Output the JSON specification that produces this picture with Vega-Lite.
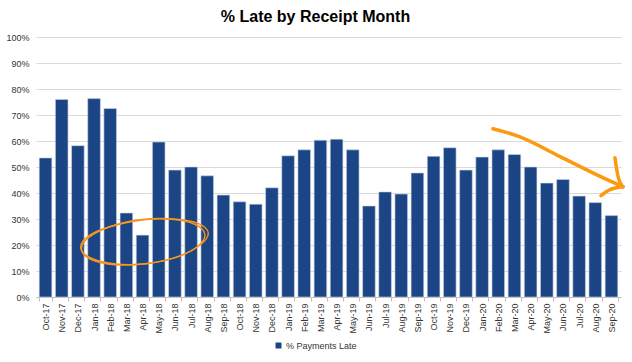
{
  "$schema": "https://vega.github.io/schema/vega-lite/v6.json",
  "autosize": {"type": "none"},
  "width": 585,
  "height": 260,
  "padding": {"left": 36, "top": 37, "right": 11, "bottom": 65},
  "background": "#ffffff",
  "title": {
    "text": "% Late by Receipt Month",
    "font": "Liberation Sans",
    "fontSize": 16,
    "fontWeight": "bold",
    "color": "#000000",
    "anchor": "middle",
    "dx": -13,
    "offset": 8
  },
  "config": {
    "view": {"stroke": null},
    "font": "Liberation Sans"
  },
  "datasets": {
    "months": [
      {"month": "Oct-17", "late": 0.535},
      {"month": "Nov-17", "late": 0.76},
      {"month": "Dec-17", "late": 0.582},
      {"month": "Jan-18", "late": 0.763},
      {"month": "Feb-18", "late": 0.725},
      {"month": "Mar-18", "late": 0.323},
      {"month": "Apr-18", "late": 0.238},
      {"month": "May-18", "late": 0.596},
      {"month": "Jun-18", "late": 0.488},
      {"month": "Jul-18", "late": 0.5},
      {"month": "Aug-18", "late": 0.466},
      {"month": "Sep-18", "late": 0.392},
      {"month": "Oct-18", "late": 0.366},
      {"month": "Nov-18", "late": 0.357},
      {"month": "Dec-18", "late": 0.42},
      {"month": "Jan-19", "late": 0.543},
      {"month": "Feb-19", "late": 0.566},
      {"month": "Mar-19", "late": 0.603},
      {"month": "Apr-19", "late": 0.607},
      {"month": "May-19", "late": 0.566},
      {"month": "Jun-19", "late": 0.35},
      {"month": "Jul-19", "late": 0.404},
      {"month": "Aug-19", "late": 0.396},
      {"month": "Sep-19", "late": 0.477},
      {"month": "Oct-19", "late": 0.541},
      {"month": "Nov-19", "late": 0.574},
      {"month": "Dec-19", "late": 0.488},
      {"month": "Jan-20", "late": 0.538},
      {"month": "Feb-20", "late": 0.566},
      {"month": "Mar-20", "late": 0.548},
      {"month": "Apr-20", "late": 0.5},
      {"month": "May-20", "late": 0.438},
      {"month": "Jun-20", "late": 0.452},
      {"month": "Jul-20", "late": 0.388},
      {"month": "Aug-20", "late": 0.363},
      {"month": "Sep-20", "late": 0.313}
    ],
    "ellipse": [
      {"loop": 1, "i": 0, "x": 10.39, "late": 0.2408},
      {"loop": 1, "i": 1, "x": 9.96, "late": 0.195},
      {"loop": 1, "i": 2, "x": 8.64, "late": 0.1535},
      {"loop": 1, "i": 3, "x": 6.76, "late": 0.1277},
      {"loop": 1, "i": 4, "x": 4.84, "late": 0.1242},
      {"loop": 1, "i": 5, "x": 3.39, "late": 0.1442},
      {"loop": 1, "i": 6, "x": 2.8, "late": 0.1823},
      {"loop": 1, "i": 7, "x": 3.23, "late": 0.2281},
      {"loop": 1, "i": 8, "x": 4.56, "late": 0.2696},
      {"loop": 1, "i": 9, "x": 6.43, "late": 0.2954},
      {"loop": 1, "i": 10, "x": 8.35, "late": 0.2988},
      {"loop": 1, "i": 11, "x": 9.8, "late": 0.2788},
      {"loop": 2, "i": 0, "x": 10.6, "late": 0.246},
      {"loop": 2, "i": 1, "x": 10.1, "late": 0.2},
      {"loop": 2, "i": 2, "x": 8.8, "late": 0.156},
      {"loop": 2, "i": 3, "x": 6.9, "late": 0.129},
      {"loop": 2, "i": 4, "x": 4.9, "late": 0.127},
      {"loop": 2, "i": 5, "x": 3.4, "late": 0.149},
      {"loop": 2, "i": 6, "x": 2.75, "late": 0.188},
      {"loop": 2, "i": 7, "x": 3.2, "late": 0.233},
      {"loop": 2, "i": 8, "x": 4.6, "late": 0.272},
      {"loop": 2, "i": 9, "x": 6.5, "late": 0.298},
      {"loop": 2, "i": 10, "x": 8.5, "late": 0.3},
      {"loop": 2, "i": 11, "x": 10.0, "late": 0.282}
    ],
    "arrow": [
      {"part": "shaft", "i": 0, "x": 28.12, "late": 0.647},
      {"part": "shaft", "i": 1, "x": 29.78, "late": 0.616},
      {"part": "shaft", "i": 2, "x": 32.25, "late": 0.54},
      {"part": "shaft", "i": 3, "x": 34.52, "late": 0.47},
      {"part": "shaft", "i": 4, "x": 36.12, "late": 0.424},
      {"part": "head1", "i": 0, "x": 35.63, "late": 0.536},
      {"part": "head1", "i": 1, "x": 35.82, "late": 0.463},
      {"part": "head1", "i": 2, "x": 36.12, "late": 0.424},
      {"part": "head2", "i": 0, "x": 34.77, "late": 0.39},
      {"part": "head2", "i": 1, "x": 35.32, "late": 0.413},
      {"part": "head2", "i": 2, "x": 36.12, "late": 0.424}
    ]
  },
  "encoding": {
    "y": {
      "field": "late",
      "type": "quantitative",
      "title": null,
      "scale": {"domain": [0, 1], "nice": false},
      "axis": {
        "format": ".0%",
        "values": [0, 0.1, 0.2, 0.3, 0.4, 0.5, 0.6, 0.7, 0.8, 0.9, 1],
        "labelOverlap": false,
        "labelFontSize": 9,
        "labelColor": "#333333",
        "labelPadding": 7,
        "domain": false,
        "ticks": false,
        "grid": true,
        "gridColor": "#d9d9d9",
        "gridWidth": 1
      }
    }
  },
  "layer": [
    {
      "data": {"name": "months"},
      "mark": {"type": "bar", "stroke": "#c9d5e8", "strokeWidth": 0.6},
      "encoding": {
        "x": {
          "field": "month",
          "type": "ordinal",
          "sort": null,
          "title": null,
          "scale": {"paddingInner": 0.22, "paddingOuter": 0.2},
          "axis": {
            "labelAngle": -90,
            "labelFontSize": 9,
            "labelColor": "#333333",
            "labelPadding": 2,
            "tickBand": "extent",
            "tickSize": 4,
            "tickColor": "#bfbfbf",
            "domainColor": "#bfbfbf",
            "grid": false
          }
        },
        "color": {
          "datum": "% Payments Late",
          "scale": {"range": ["#1b4584"]},
          "legend": {
            "title": null,
            "orient": "none",
            "legendX": 238,
            "legendY": 304,
            "symbolType": "square",
            "symbolSize": 36,
            "symbolStrokeWidth": 0,
            "labelFontSize": 9,
            "labelColor": "#333333",
            "labelOffset": 3,
            "padding": 0
          }
        }
      }
    },
    {
      "data": {"name": "ellipse"},
      "mark": {"type": "line", "color": "#f7961c", "strokeWidth": 1.4, "interpolate": "cardinal-closed", "clip": false},
      "encoding": {
        "x": {"field": "x", "type": "quantitative", "scale": {"domain": [0, 36], "nice": false, "zero": false}, "axis": null},
        "detail": {"field": "loop"},
        "order": {"field": "i"}
      }
    },
    {
      "data": {"name": "arrow"},
      "mark": {"type": "line", "color": "#fb9a10", "strokeWidth": 3.5, "strokeCap": "round", "interpolate": "monotone", "clip": false},
      "encoding": {
        "x": {"field": "x", "type": "quantitative", "scale": {"domain": [0, 36], "nice": false, "zero": false}, "axis": null},
        "detail": {"field": "part"},
        "order": {"field": "i"}
      }
    }
  ],
  "resolve": {"scale": {"x": "independent"}, "axis": {"x": "independent"}}
}
